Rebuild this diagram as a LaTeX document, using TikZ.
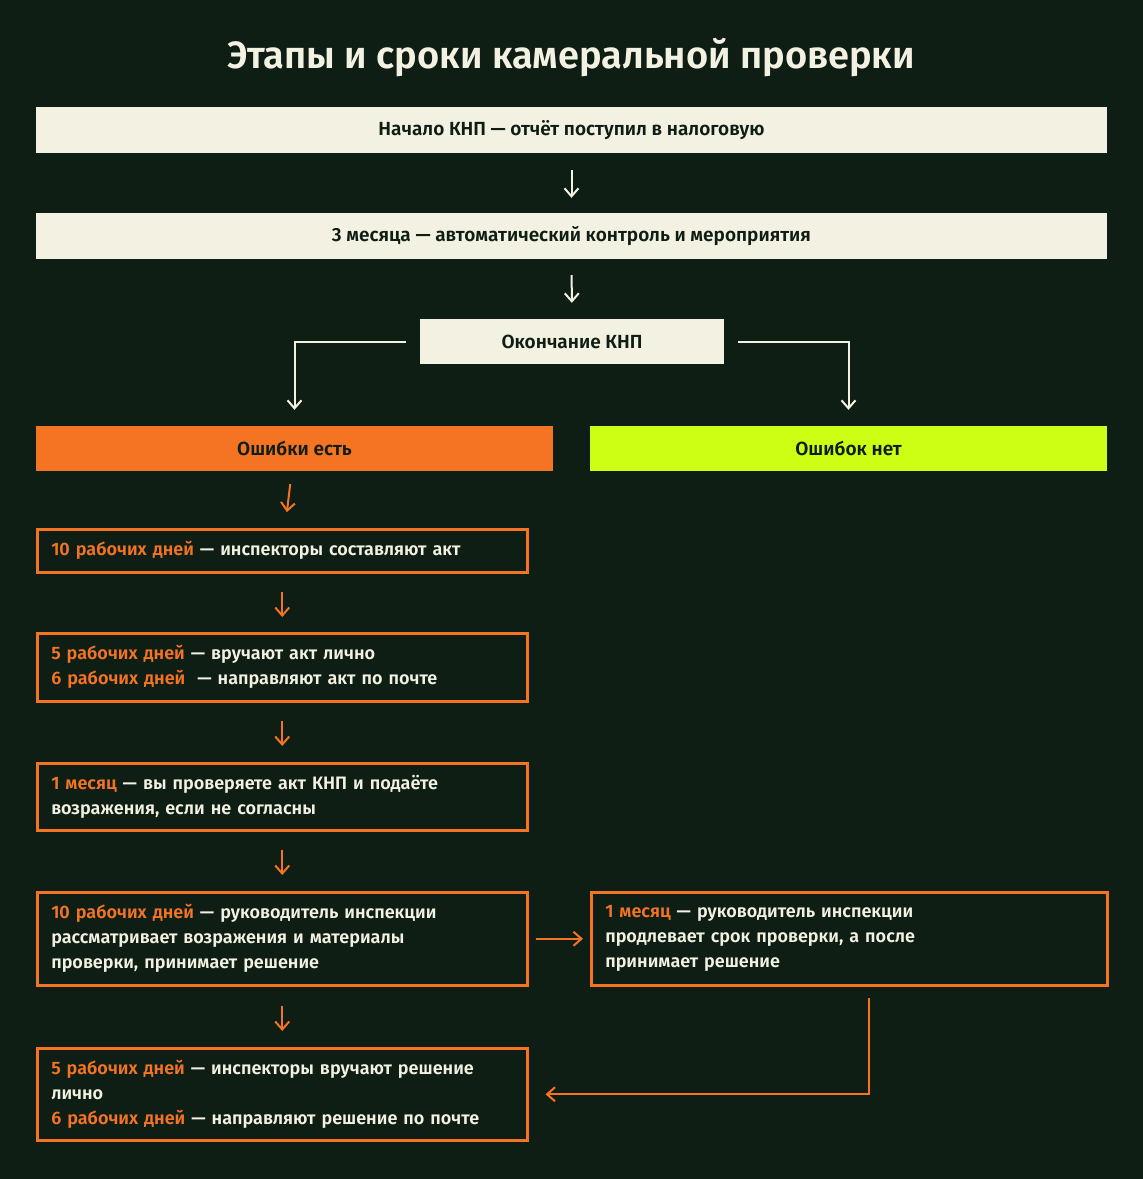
\documentclass[tikz,border=0pt]{standalone}
\usepackage{fontspec}
\setmainfont{Fira Sans}[BoldFont={Fira Sans SemiBold}]
\usetikzlibrary{arrows.meta}
\definecolor{bg}{HTML}{0F1E15}
\definecolor{cream}{HTML}{F3F1E2}
\definecolor{org}{HTML}{F47424}
\definecolor{lime}{HTML}{CCFF14}
\definecolor{dark}{HTML}{0F1E15}
\begin{document}
\begin{tikzpicture}[x=1pt,y=-1pt,
  lbox/.style={rectangle,fill=cream,text=dark,font=\fontsize{19}{23}\selectfont\bfseries,inner sep=0},
  obox/.style={rectangle,draw=org,line width=2.5pt,text=cream,font=\fontsize{18}{25}\selectfont\bfseries,align=left,text width=490,inner sep=0,anchor=north west},
  hl/.style={text=org},
  warr/.style={draw=cream,line width=2pt,-{Straight Barb[length=8pt,width=14pt]}},
  oarr/.style={draw=org,line width=2pt,-{Straight Barb[length=8pt,width=14pt]}}]
\fill[bg] (0,0) rectangle (1143,1179);
\useasboundingbox (0,0) rectangle (1143,1179);
\node[text=cream,font=\fontsize{38}{44}\selectfont\bfseries] (title) at (571,58) {Этапы и сроки камеральной проверки};
\node[lbox,minimum width=1071,minimum height=46] (s1) at (571.5,130) {Начало КНП — отчёт поступил в налоговую};
\node[lbox,minimum width=1071,minimum height=46] (s2) at (571.5,236) {3 месяца — автоматический контроль и мероприятия};
\node[lbox,minimum width=304,minimum height=45] (s3) at (572,341.5) {Окончание КНП};
\node[lbox,fill=org,minimum width=517,minimum height=45] (yes) at (294.5,448.5) {Ошибки есть};
\node[lbox,fill=lime,minimum width=517,minimum height=45] (no) at (848.5,448.5) {Ошибок нет};
\draw[warr,shorten <=17,shorten >=15] (s1) -- (s2);
\draw[warr,shorten <=16,shorten >=16] (s2) -- (s3);
\draw[warr,shorten <=14,shorten >=16] (s3.west) -| (yes.north);
\draw[warr,shorten <=14,shorten >=16] (s3.east) -| (no.north);
\node[obox,minimum height=43] (b1) at (36,528) {\hspace*{14pt}{\color{org}10 рабочих дней} — инспекторы составляют акт};
\node[obox,minimum height=68] (b2) at (36,632) {\hspace*{14pt}\parbox{470pt}{{\color{org}5 рабочих дней} — вручают акт лично\\{\color{org}6 рабочих дней}\ \ — направляют акт по почте}};
\node[obox,minimum height=67] (b3) at (36,762) {\hspace*{14pt}\parbox{470pt}{{\color{org}1 месяц} — вы проверяете акт КНП и подаёте\\возражения, если не согласны}};
\node[obox,minimum height=93] (b4) at (36,891) {\hspace*{14pt}\parbox{470pt}{{\color{org}10 рабочих дней} — руководитель инспекции\\рассматривает возражения и материалы\\проверки, принимает решение}};
\node[obox,minimum height=92] (b5) at (36,1047) {\hspace*{14pt}\parbox{470pt}{{\color{org}5 рабочих дней} — инспекторы вручают решение\\лично\\{\color{org}6 рабочих дней} — направляют решение по почте}};
\node[obox,text width=516,minimum height=93] (rb) at (590,891) {\hspace*{14pt}\parbox{490pt}{{\color{org}1 месяц} — руководитель инспекции\\продлевает срок проверки, а после\\принимает решение}};
\draw[oarr,shorten <=13,shorten >=16] (yes) -- (b1);
\draw[oarr,shorten <=18,shorten >=15] (b1) -- (b2);
\draw[oarr,shorten <=18,shorten >=16] (b2) -- (b3);
\draw[oarr,shorten <=18,shorten >=16] (b3) -- (b4);
\draw[oarr,shorten <=19,shorten >=16] (b4) -- (b5);
\draw[oarr,shorten <=7,shorten >=7] (b4) -- (rb);
\coordinate (c) at (869,984);
\draw[oarr,shorten <=14,shorten >=17] (c) |- (b5.east);
\end{tikzpicture}
\end{document}
